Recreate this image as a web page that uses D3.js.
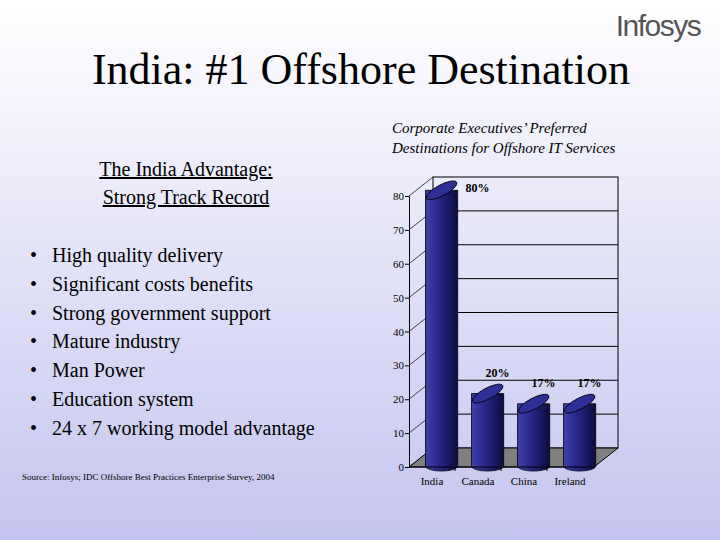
<!DOCTYPE html><html><head><meta charset="utf-8"><script src="https://cdn.jsdelivr.net/npm/d3@7"></script>
<style>body{margin:0}svg{display:block}</style></head><body><svg id="c" width="720" height="540"></svg>
<script>
const categories=["India","Canada","China","Ireland"];
const values=[80,20,17,17];
const valueLabels=["80%","20%","17%","17%"];
const ticks=[0,10,20,30,40,50,60,70,80];
const bullets=["High quality delivery","Significant costs benefits","Strong government support","Mature industry","Man Power","Education system","24 x 7 working model advantage"];
const svg=d3.select("#c");
const defs=svg.append("defs");
const bg=defs.append("linearGradient").attr("id","bg").attr("x1",0).attr("y1",0).attr("x2",0).attr("y2",1);
bg.append("stop").attr("offset",0).attr("stop-color","#ffffff");
bg.append("stop").attr("offset",1).attr("stop-color","#c4c4f0");
const bar=defs.append("linearGradient").attr("id","bar");
bar.append("stop").attr("offset",0).attr("stop-color","#4040a8");
bar.append("stop").attr("offset",0.35).attr("stop-color","#2a2a90");
bar.append("stop").attr("offset",1).attr("stop-color","#0c0c40");
svg.append("rect").attr("width",720).attr("height",540).attr("fill","url(#bg)");
const T="Times New Roman, Liberation Serif, serif";
svg.append("text").attr("x",658).attr("y",36).attr("text-anchor","middle").attr("font-family","Liberation Sans, Arial, sans-serif").attr("font-size",30).attr("fill","#555").attr("letter-spacing",-1.5).text("Infosys");
svg.append("text").attr("x",361).attr("y",84).attr("text-anchor","middle").attr("font-family",T).attr("font-size",44).text("India: #1 Offshore Destination");
svg.append("text").attr("x",186).attr("y",176).attr("text-anchor","middle").attr("font-family",T).attr("font-size",20).attr("text-decoration","underline").text("The India Advantage:");
svg.append("text").attr("x",186).attr("y",204).attr("text-anchor","middle").attr("font-family",T).attr("font-size",20).attr("text-decoration","underline").text("Strong Track Record");
bullets.forEach((b,i)=>{const y=262+i*28.8;
svg.append("text").attr("x",30).attr("y",y).attr("font-family",T).attr("font-size",20).text("•");
svg.append("text").attr("x",52).attr("y",y).attr("font-family",T).attr("font-size",20).text(b);});
svg.append("text").attr("x",22).attr("y",480).attr("font-family",T).attr("font-size",9).text("Source: Infosys; IDC Offshore Best Practices Enterprise Survey, 2004");
svg.append("text").attr("x",392).attr("y",133).attr("font-family",T).attr("font-style","italic").attr("font-size",15).text("Corporate Executives’ Preferred");
svg.append("text").attr("x",392).attr("y",153).attr("font-family",T).attr("font-style","italic").attr("font-size",15).text("Destinations for Offshore IT Services");
const y=d3.scaleLinear().domain([0,80]).range([467,196]);
const x=d3.scaleBand().domain(categories).range([409,593]).paddingInner(0.3).paddingOuter(0.15);
const dx=24,dy=-19, backR=618;
const g=svg.append("g");
g.append("rect").attr("x",409+dx).attr("y",y(80)+dy).attr("width",backR-409-dx).attr("height",y(0)-y(80)).attr("fill","none").attr("stroke","#000");
ticks.forEach(t=>{ if(t>0&&t<80) g.append("line").attr("x1",409+dx).attr("x2",backR).attr("y1",y(t)+dy).attr("y2",y(t)+dy).attr("stroke","#000");
 g.append("line").attr("x1",409).attr("y1",y(t)).attr("x2",409+dx).attr("y2",y(t)+dy).attr("stroke","#000").attr("stroke-width",0.7);});
g.append("path").attr("d",`M409,${y(0)}L${409+dx},${y(0)+dy}L${backR},${y(0)+dy}L${backR-dx},${y(0)}Z`).attr("fill","#808080").attr("stroke","#000");
const ax=d3.axisLeft(y).tickValues(ticks).tickSize(4).tickFormat(d3.format("d"));
const ag=svg.append("g").attr("transform","translate(409,0)").call(ax);
ag.select(".domain").attr("stroke","#000");
ag.selectAll("text").attr("font-family",T).attr("font-size",11).attr("dx",2);
svg.append("line").attr("x1",409).attr("x2",backR-dx).attr("y1",y(0)).attr("y2",y(0)).attr("stroke","#000");
categories.forEach((c,i)=>{if(i>0){const xx=x(c)-x.step()*x.paddingInner()/2;svg.append("line").attr("x1",xx).attr("x2",xx).attr("y1",y(0)).attr("y2",y(0)+4).attr("stroke","#000");}});
const bw=x.bandwidth();
categories.forEach((c,i)=>{
 const x0=x(c)+dx*0.4, top=y(values[i])+dy*0.3, bot=y(0)+dy*0.05;
 const cx=x0+bw/2;
 g.append("path").attr("d",`M${x0},${top}L${x0},${bot}A${bw/2},5 0 0 0 ${x0+bw},${bot}L${x0+bw},${top}Z`).attr("fill","url(#bar)").attr("stroke","#000").attr("stroke-width",0.8);
 g.append("ellipse").attr("cx",cx).attr("cy",top).attr("rx",bw/2+1).attr("ry",5.5).attr("transform",`rotate(-28,${cx},${top})`).attr("fill","#2e2e98").attr("stroke","#000").attr("stroke-width",0.8);
 g.append("text").attr("x",cx+(i==0?36:10)).attr("y",i==0?y(values[i])-4:y(values[i])-22).attr("text-anchor","middle").attr("font-family",T).attr("font-weight","bold").attr("font-size",12).text(valueLabels[i]);
 svg.append("text").attr("x",x(c)+bw/2).attr("y",485).attr("text-anchor","middle").attr("font-family",T).attr("font-size",11).text(c);
});
</script></body></html>
